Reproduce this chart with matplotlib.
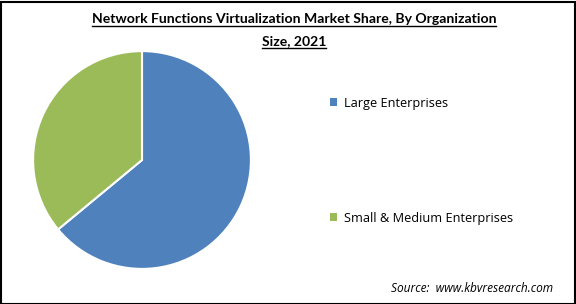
import matplotlib.pyplot as plt
from matplotlib.patches import Rectangle, Patch
from matplotlib.lines import Line2D

labels = ['Large Enterprises', 'Small & Medium Enterprises']
shares = [64.0, 36.0]
colors = ['#4F81BD', '#9BBB59']

title_lines = ['Network Functions Virtualization Market Share, By Organization', 'Size, 2021']
source = 'Source:  www.kbvresearch.com'

W, H = 576, 304
fig = plt.figure(figsize=(W / 100, H / 100), dpi=100)

# pie
ax = fig.add_axes([32 / W, 34 / H, 220 / W, 220 / H])
ax.pie(shares, colors=colors, startangle=90, counterclock=False,
       wedgeprops=dict(edgecolor='white', linewidth=1.5))
ax.set_xlim(-1.01, 1.01)
ax.set_ylim(-1.01, 1.01)
ax.set_aspect('equal')

# title, underlined
fig.canvas.draw()
renderer = fig.canvas.get_renderer()
for i, line in enumerate(title_lines):
	y = (H - 19 - i * 22) / H
	t = fig.text(294 / W, y, line, ha='center', va='center', fontsize=10.1,
				 fontweight='bold', family='Lato')
	bb = t.get_window_extent(renderer)
	uy = (bb.y0 - 1) / H
	fig.add_artist(Line2D([bb.x0 / W, bb.x1 / W], [uy, uy], color='black',
						  linewidth=1, transform=fig.transFigure))

# legend
handles = [Patch(facecolor=c, edgecolor='none') for c in colors]
fig.legend(handles, labels, loc='upper left', bbox_to_anchor=(318 / W, (H - 85) / H),
		   frameon=False, handlelength=0.6, handleheight=0.6,
		   handletextpad=0.5, labelspacing=8.0, prop={'family': 'Open Sans', 'size': 9.2})

fig.text(553 / W, 15 / H, source, ha='right', va='center', fontsize=8.6,
		 style='italic', family='Open Sans')

# frame around the picture
fig.add_artist(Rectangle((0.5 / W, 0.5 / H), 1 - 2 / W, 1 - 2 / H, transform=fig.transFigure,
						 fill=False, edgecolor='black', linewidth=1.5))

fig.savefig('out.png', dpi=100)
